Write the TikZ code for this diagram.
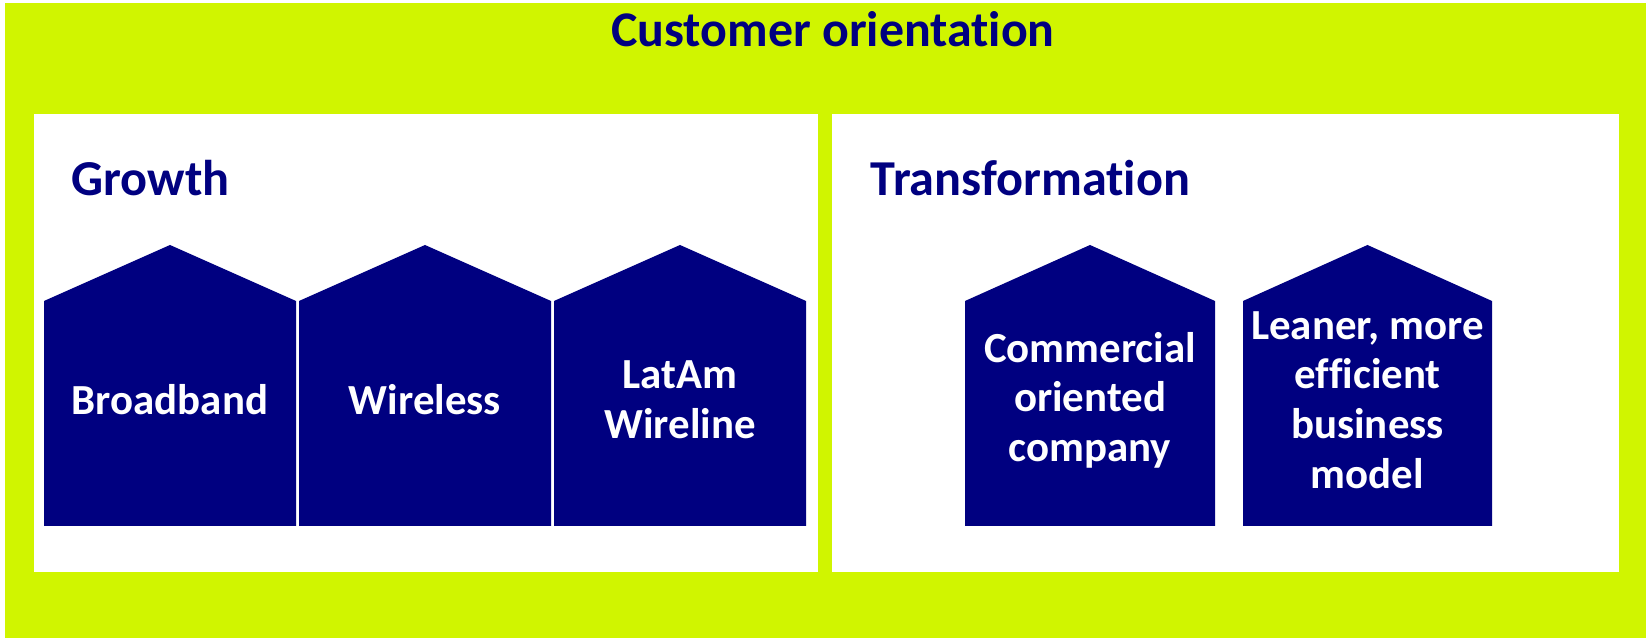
\documentclass[tikz,border=0pt]{standalone}
\usepackage{fontspec}
\setmainfont{Carlito}[Ligatures=NoCommon]
\usetikzlibrary{positioning}
\definecolor{clrLime}{RGB}{208,245,0}
\definecolor{clrNavy}{RGB}{0,0,128}
\tikzset{
  panel/.style={fill=white,draw=none},
  heading/.style={anchor=base west,inner sep=0pt,text=clrNavy,
    font=\fontsize{14.3}{17}\selectfont\bfseries},
  houselabel/.style={align=center,inner sep=0pt,text=white,
    font=\fontsize{12.2}{14.1}\selectfont\bfseries},
  housebody/.style={fill=clrNavy,draw=none}
}
% house: name, left x, right x, label
\newcommand{\house}[4]{%
  \fill[housebody] (#2,526) -- (#2,301) -- ({(#2+#3)/2},245)
    -- (#3,301) -- (#3,526) -- cycle;
  \node[houselabel] (#1) at ({(#2+#3)/2},400) {#4};
}

\begin{document}
\begin{tikzpicture}[x=0.1mm,y=-0.1mm]
\useasboundingbox (0,0) rectangle (1646,638);
\fill[white] (0,0) rectangle (1646,638);
\fill[clrLime] (5,3) rectangle (1646,638);

\node[anchor=base,inner sep=0pt,text=clrNavy,
  font=\fontsize{14.2}{17}\selectfont\bfseries] (title) at (833,47)
  {Customer orientation};

% Growth panel
\fill[panel] (34,114) rectangle (818,572);
\node[heading] (growth) at (71,196) {Growth};
\house{broadband}{44}{296}{Broadband}
\house{wireless}{299}{551}{Wireless}
\house{latam}{554}{806}{LatAm\\Wireline}

% Transformation panel
\fill[panel] (832,114) rectangle (1619,572);
\node[heading] (transf) at (870,196) {Transformation};
\house{commercial}{965}{1215}{Commercial\\oriented\\company}
\house{leaner}{1243}{1492}{Leaner, more\\efficient\\business\\model}
\end{tikzpicture}
\end{document}
